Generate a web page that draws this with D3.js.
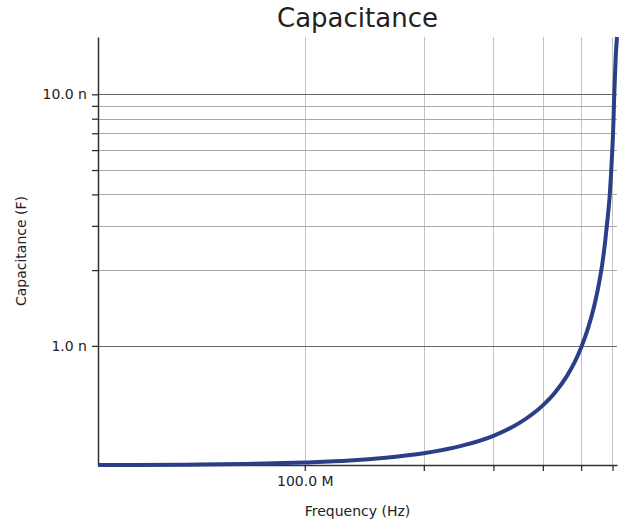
<!DOCTYPE html>
<html>
<head>
<meta charset="utf-8">
<script src="https://cdn.jsdelivr.net/npm/d3@7"></script>
<style>
  body { margin: 0; background: #fff; }
  text { font-family: "DejaVu Sans", sans-serif; fill: #222; }
</style>
</head>
<body>
<svg id="graph" width="620" height="526"></svg>
<script>
// frequency sweep (MHz) and effective capacitance (nF)
var freqMHz = [30, 50, 70, 100, 130, 160, 200, 250, 300, 350, 400, 430, 460, 480, 500,
               520, 540, 555, 565, 575, 583, 590, 595, 599, 602, 604, 606, 609, 612, 616];
var capNF   = [0.336, 0.337, 0.339, 0.344, 0.350, 0.359, 0.374, 0.401, 0.439, 0.495, 0.580, 0.654, 0.758, 0.853, 0.985,
               1.17, 1.45, 1.78, 2.10, 2.60, 3.20, 3.90, 4.80, 5.90, 7.00, 8.20, 9.80, 12.0, 14.5, 16.9];

var xMajor = [100e6];
var xMinor = [200e6, 300e6, 400e6, 500e6, 600e6];
var yMajor = [1e-9, 10e-9];
var yMinor = [2e-9, 3e-9, 4e-9, 5e-9, 6e-9, 7e-9, 8e-9, 9e-9];
var xLabels = ["100.0 M"];
var yLabels = ["1.0 n", "10.0 n"];

var data = freqMHz.map(function(f, i) { return {f: f * 1e6, c: capNF[i] * 1e-9}; });

var svg = d3.select('#graph'),
    margin = {top: 37, right: 3, bottom: 61, left: 98},
    width = +svg.attr("width") - margin.left - margin.right,
    height = +svg.attr("height") - margin.top - margin.bottom,
    g = svg.append("g").attr("transform", "translate(" + margin.left + "," + margin.top + ")");

var x = d3.scaleLog()
    .domain(d3.extent(data, function(d) { return d.f; }))
    .range([0, width]);

var y = d3.scaleLog()
    .domain(d3.extent(data, function(d) { return d.c; }))
    .range([height, 0]);

// grid lines
g.selectAll(".vgrid")
    .data(xMajor.concat(xMinor))
  .enter().append("line")
    .attr("class", "vgrid")
    .attr("x1", function(d) { return Math.round(x(d)) + 0.5; })
    .attr("x2", function(d) { return Math.round(x(d)) + 0.5; })
    .attr("y1", 0)
    .attr("y2", height)
    .attr("stroke", "#c4c4c4")
    .attr("stroke-width", 1);

g.selectAll(".hgrid")
    .data(yMajor.concat(yMinor))
  .enter().append("line")
    .attr("class", "hgrid")
    .attr("x1", 0)
    .attr("x2", width)
    .attr("y1", function(d) { return Math.round(y(d)) + 0.5; })
    .attr("y2", function(d) { return Math.round(y(d)) + 0.5; })
    .attr("stroke", function(d) { return yMajor.indexOf(d) >= 0 ? "#666" : "#a8a8a8"; })
    .attr("stroke-width", 1);

// axes
var xAxis = d3.axisBottom(x)
    .tickValues(xMajor.concat(xMinor))
    .tickSizeInner(6).tickSizeOuter(0).tickPadding(5)
    .tickFormat(function(d) { var i = xMajor.indexOf(d); return i >= 0 ? xLabels[i] : ""; });

var yAxis = d3.axisLeft(y)
    .tickValues(yMajor.concat(yMinor))
    .tickSizeInner(6).tickSizeOuter(0).tickPadding(5)
    .tickFormat(function(d) { var i = yMajor.indexOf(d); return i >= 0 ? yLabels[i] : ""; });

var gx = g.append("g")
    .attr("class", "axis axis--x")
    .attr("transform", "translate(0," + height + ")")
    .call(xAxis);

var gy = g.append("g")
    .attr("class", "axis axis--y")
    .call(yAxis);

[gx, gy].forEach(function(a) {
    a.attr("font-family", null).attr("font-size", null);
    a.select(".domain").attr("stroke", "#333").attr("stroke-width", 1.5);
    a.selectAll(".tick line").attr("stroke", "#222").attr("stroke-width", 1.2);
    a.selectAll(".tick text").style("font-size", "14px").attr("fill", "#222");
});

// curve
svg.append("clipPath").attr("id", "plotclip")
  .append("rect")
    .attr("x", 0).attr("y", -1)
    .attr("width", width + 2).attr("height", height + 3);

var valueline = d3.line()
    .x(function(d) { return x(d.f); })
    .y(function(d) { return y(d.c); })
    .curve(d3.curveMonotoneX);

g.append("path")
    .datum(data)
    .attr("clip-path", "url(#plotclip)")
    .attr("d", valueline)
    .style("fill", "none")
    .attr("stroke", "#2b3e87")
    .attr("stroke-width", 4);

// titles
svg.append("text")
    .attr("x", margin.left + width / 2)
    .attr("y", 27)
    .attr("text-anchor", "middle")
    .style("font-size", "26px")
    .attr("fill", "#111")
    .text("Capacitance");

svg.append("text")
    .attr("x", margin.left + width / 2)
    .attr("y", 516)
    .attr("text-anchor", "middle")
    .style("font-size", "14px")
    .text("Frequency (Hz)");

svg.append("text")
    .attr("transform", "translate(26," + (margin.top + height / 2) + ") rotate(-90)")
    .attr("text-anchor", "middle")
    .style("font-size", "14px")
    .text("Capacitance (F)");
</script>
</body>
</html>
